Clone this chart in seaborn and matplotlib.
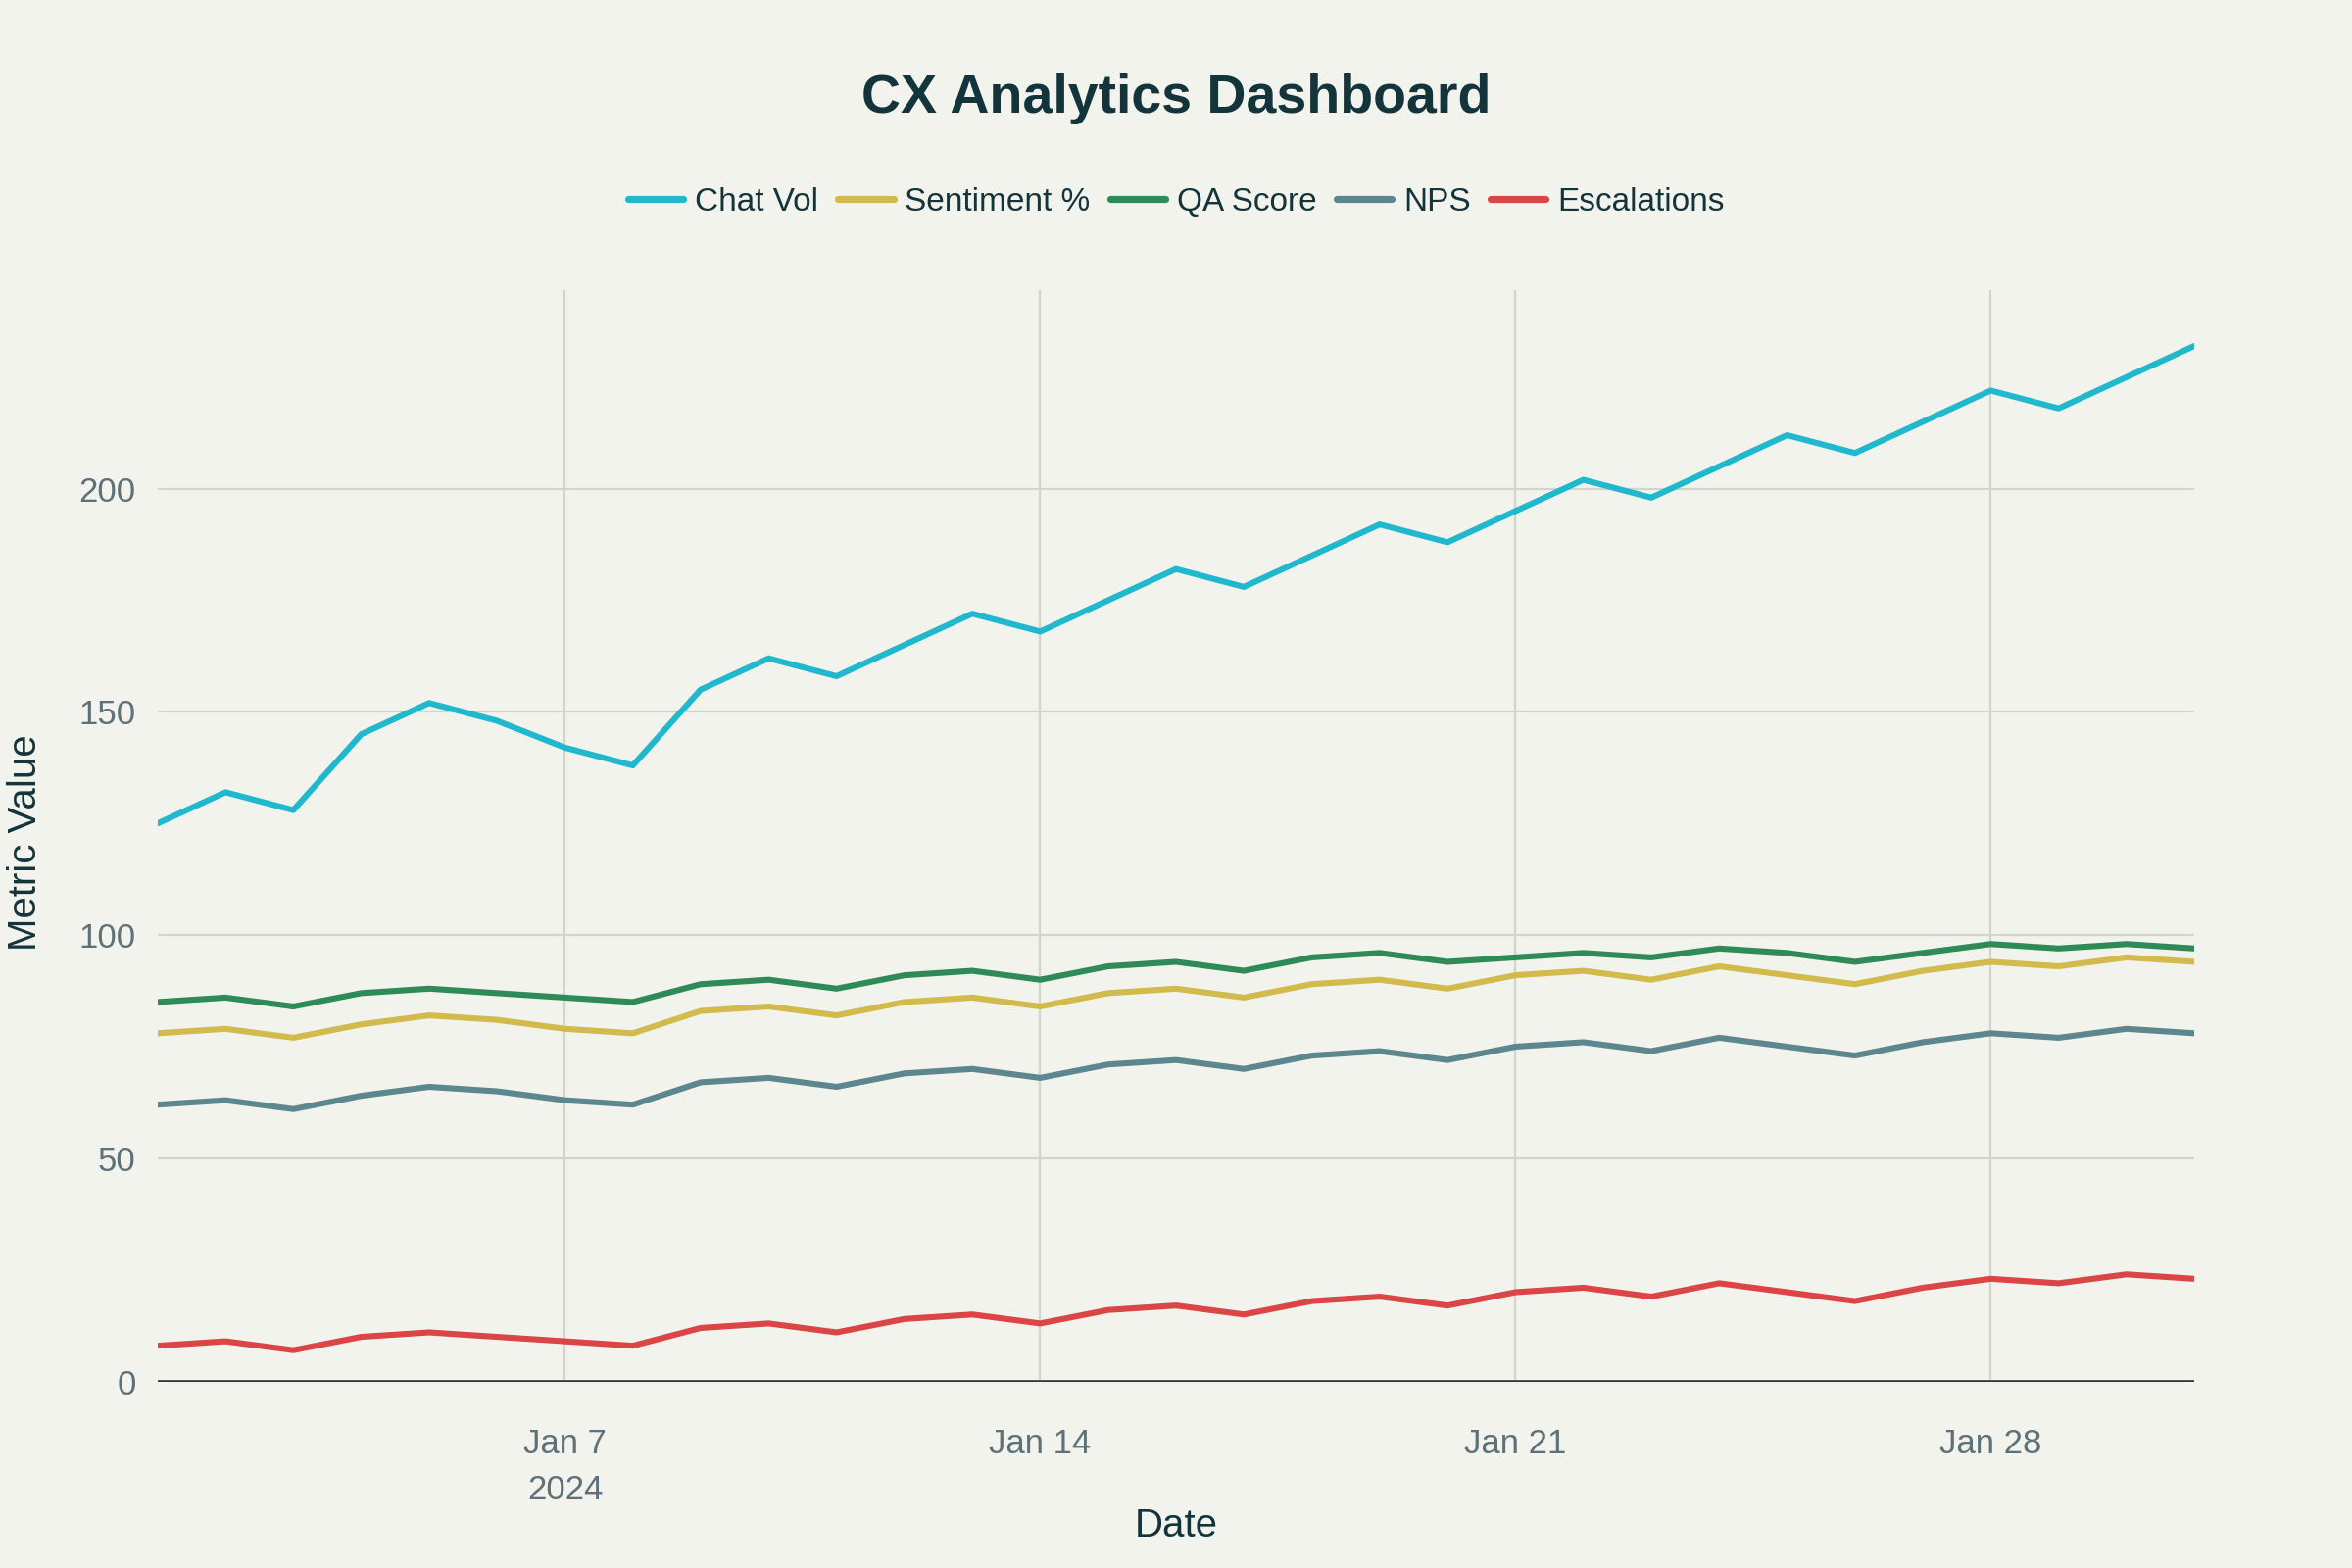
import pandas as pd
import numpy as np
import seaborn as sns
import matplotlib.pyplot as plt

# Daily CX metrics, January 2024
dates = pd.date_range('2024-01-01', '2024-01-31', freq='D')

chat_vol = [125, 132, 128, 145, 152, 148, 142, 138, 155, 162, 158, 165, 172, 168, 175, 182,
            178, 185, 192, 188, 195, 202, 198, 205, 212, 208, 215, 222, 218, 225, 232]
sentiment = [78, 79, 77, 80, 82, 81, 79, 78, 83, 84, 82, 85, 86, 84, 87, 88,
             86, 89, 90, 88, 91, 92, 90, 93, 91, 89, 92, 94, 93, 95, 94]
qa_score = [85, 86, 84, 87, 88, 87, 86, 85, 89, 90, 88, 91, 92, 90, 93, 94,
            92, 95, 96, 94, 95, 96, 95, 97, 96, 94, 96, 98, 97, 98, 97]
nps = [62, 63, 61, 64, 66, 65, 63, 62, 67, 68, 66, 69, 70, 68, 71, 72,
       70, 73, 74, 72, 75, 76, 74, 77, 75, 73, 76, 78, 77, 79, 78]
escalations = [8, 9, 7, 10, 11, 10, 9, 8, 12, 13, 11, 14, 15, 13, 16, 17,
               15, 18, 19, 17, 20, 21, 19, 22, 20, 18, 21, 23, 22, 24, 23]

series_names = ['Chat Vol', 'Sentiment %', 'QA Score', 'NPS', 'Escalations']
series_values = [chat_vol, sentiment, qa_score, nps, escalations]
colors = ['#1FB8CD', '#D2BA4C', '#2E8B57', '#5D878F', '#DB4545']

tick_dates = ['2024-01-07', '2024-01-14', '2024-01-21', '2024-01-28']
tick_labels = ['Jan 7\n2024', 'Jan 14', 'Jan 21', 'Jan 28']

df = pd.concat([pd.DataFrame({'Date': dates, 'Value': v, 'Metric': n})
                for n, v in zip(series_names, series_values)], ignore_index=True)

bg = '#F3F3EE'
title_col = '#13343B'
tick_col = '#5E7178'

sns.set_theme(style='white')
plt.rcParams['font.family'] = ['Liberation Sans', 'DejaVu Sans']

fig = plt.figure(figsize=(12, 8), dpi=200, facecolor=bg)
ax = fig.add_axes([0.067, 0.119, 0.866, 0.696])
ax.set_facecolor(bg)

sns.lineplot(data=df, x='Date', y='Value', hue='Metric', hue_order=series_names,
             palette=colors, linewidth=2.2, ax=ax, legend=True)

ax.set_xlim(dates[0], dates[-1])
ax.set_ylim(0, 244.5)
ax.set_yticks([0, 50, 100, 150, 200])

ax.set_xticks(pd.to_datetime(tick_dates))
ax.set_xticklabels(tick_labels, linespacing=1.55)

ax.grid(True, color='#D4D4CF', linewidth=0.8)
ax.set_axisbelow(True)
for s in ax.spines.values():
    s.set_visible(False)
ax.axhline(0, color='#333333', linewidth=1.3, zorder=1)

ax.tick_params(axis='both', colors='#D4D4CF', labelcolor=tick_col, labelsize=12.5,
               length=4, width=0.8)
ax.tick_params(axis='y', pad=4)
ax.tick_params(axis='x', pad=13)

ax.set_xlabel('')
ax.set_ylabel('')
fig.text(0.5, 0.027, 'Date', ha='center', va='center', fontsize=14.5, color=title_col)
fig.text(0.011, 0.463, 'Metric Value', ha='center', va='center', rotation=90,
         fontsize=14.5, color=title_col)

handles, labels = ax.get_legend_handles_labels()
ax.legend_.remove()
for h in handles:
    h.set_linewidth(2.6)
fig.legend(handles, labels, loc='center', bbox_to_anchor=(0.5, 0.871), ncol=5,
           frameon=False, fontsize=12, labelcolor=title_col, handlelength=1.7,
           handletextpad=0.35, columnspacing=0.6)

fig.text(0.5, 0.937, 'CX Analytics Dashboard', ha='center', va='center',
         fontsize=20, fontweight='bold', color=title_col)

fig.savefig('out.png', dpi=200, facecolor=bg)
